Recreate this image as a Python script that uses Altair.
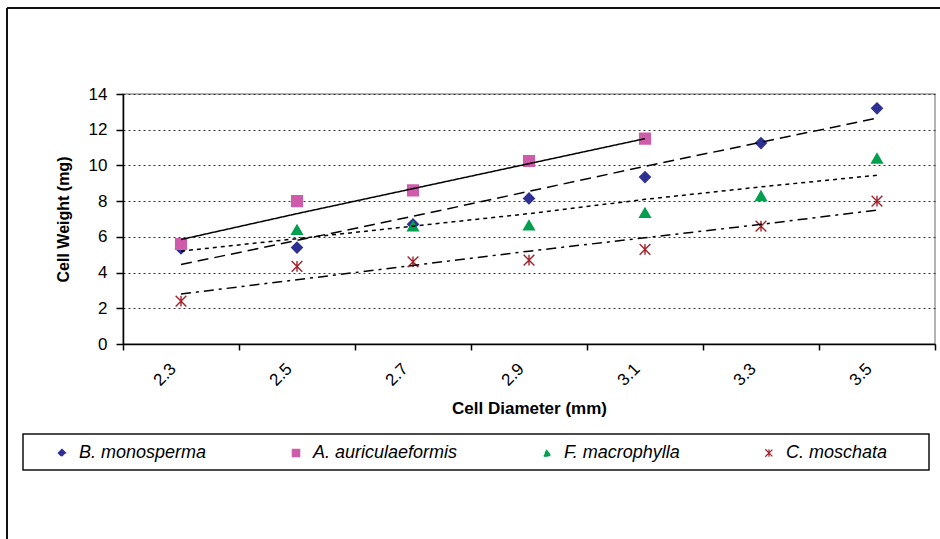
import altair as alt
import pandas as pd

# Cell diameter classes (mm) shown along the x axis
diameters = ["2.3", "2.5", "2.7", "2.9", "3.1", "3.3", "3.5"]

species = ["B. monosperma", "A. auriculaeformis", "F. macrophylla", "C. moschata"]

# Mean cell weight (mg) per diameter class
b_monosperma = [5.35, 5.4, 6.7, 8.15, 9.35, 11.25, 13.2]
a_auriculaeformis = [5.6, 8.0, 8.6, 10.25, 11.5, None, None]
f_macrophylla = [None, 6.4, 6.6, 6.65, 7.35, 8.3, 10.4]
c_moschata = [2.4, 4.35, 4.6, 4.7, 5.3, 6.6, 8.0]

# Linear trend line values per diameter class
b_monosperma_trend = [4.45, 5.8, 7.15, 8.55, 9.95, 11.3, 12.65]
a_auriculaeformis_trend = [5.85, 7.3, 8.7, 10.1, 11.5, None, None]
f_macrophylla_trend = [5.2, 5.9, 6.6, 7.3, 8.1, 8.8, 9.45]
c_moschata_trend = [2.8, 3.6, 4.4, 5.2, 5.95, 6.7, 7.5]

colors = ["#2E3192", "#CF5CAA", "#00A04E", "#A3232B"]
shapes = ["diamond", "square", "triangle-up", "M-1,-1L1,1M-1,1L1,-1M0,-1L0,1"]
dashes = [[11, 6], [1, 0], [4, 4], [10, 5, 3, 5]]


def long_table(series_lists):
    rows = []
    for name, values in zip(species, series_lists):
        for d, v in zip(diameters, values):
            if v is not None:
                rows.append({"diameter": d, "species": name, "weight": v})
    return pd.DataFrame(rows)


points_df = long_table([b_monosperma, a_auriculaeformis, f_macrophylla, c_moschata])
trend_df = long_table([b_monosperma_trend, a_auriculaeformis_trend,
                       f_macrophylla_trend, c_moschata_trend])

FONT = "Liberation Sans"

x_enc = alt.X(
    "diameter:O",
    sort=diameters,
    scale=alt.Scale(type="band", domain=diameters, paddingInner=0, paddingOuter=0),
    axis=alt.Axis(
        title="Cell Diameter (mm)",
        tickBand="extent",
        labelAngle=-45,
        labelAlign="right",
        labelBaseline="middle",
        labelPadding=16,
        labelOffset=-8,
        labelFontSize=17,
        labelColor="#000",
        tickSize=6,
        tickColor="#000",
        tickWidth=1.5,
        domainColor="#000",
        domainWidth=1.5,
        titleFontSize=17,
        titleFontWeight="bold",
        titleColor="#000",
        titlePadding=12,
        grid=False,
    ),
)

y_enc = alt.Y(
    "weight:Q",
    scale=alt.Scale(domain=[0, 14], nice=False, zero=True),
    axis=alt.Axis(
        title="Cell Weight (mg)",
        values=[0, 2, 4, 6, 8, 10, 12, 14],
        labelOverlap=False,
        labelFontSize=17,
        labelColor="#000",
        labelPadding=9,
        tickSize=7,
        tickColor="#000",
        tickWidth=1.5,
        domainColor="#000",
        domainWidth=1.5,
        grid=True,
        gridColor="#333",
        gridDash=[2, 3],
        gridWidth=1,
        titleFontSize=16,
        titleFontWeight="bold",
        titleColor="#000",
        titlePadding=17,
    ),
)

legend = alt.Legend(
    title=None,
    orient="none",
    legendX=-70,
    legendY=350,
    direction="horizontal",
    columnPadding=80,
    labelFontSize=18,
    labelFontStyle="italic",
    labelFont=FONT,
    labelColor="#000",
    labelOffset=8,
    symbolSize=55,
    symbolStrokeWidth=1.2,
    padding=0,
)

color_scale = alt.Scale(domain=species, range=colors)

points = alt.Chart(points_df).mark_point(
    filled=True, opacity=1, strokeWidth=1.4, size=115
).encode(
    x=x_enc,
    y=y_enc,
    color=alt.Color("species:N", scale=color_scale, legend=legend),
    stroke=alt.Stroke("species:N", scale=color_scale, legend=legend),
    shape=alt.Shape("species:N", scale=alt.Scale(domain=species, range=shapes), legend=legend),
)

trends = alt.Chart(trend_df).mark_line(color="#000", strokeWidth=1.5).encode(
    x=x_enc,
    y=y_enc,
    detail="species:N",
    strokeDash=alt.StrokeDash("species:N", scale=alt.Scale(domain=species, range=dashes), legend=None),
)

frame_data = alt.Data(values=[{"k": 0}])

# Outer chart frame (left and top edges)
frame_left = alt.Chart(frame_data).mark_rule(color="#111", strokeWidth=2).encode(
    x=alt.value(-116), y=alt.value(-86), y2=alt.value(460)
)
frame_top = alt.Chart(frame_data).mark_rule(color="#111", strokeWidth=2).encode(
    x=alt.value(-116), x2=alt.value(830), y=alt.value(-86)
)

# Box around the legend
legend_box = alt.Chart(frame_data).mark_rect(
    fill="#fff", fillOpacity=0, stroke="#111", strokeWidth=1.5
).encode(
    x=alt.value(-100), x2=alt.value(806), y=alt.value(340), y2=alt.value(376)
)

chart = (
    alt.layer(frame_left, frame_top, legend_box, points, trends)
    .properties(
        width=812,
        height=250,
        autosize=alt.AutoSizeParams(type="none"),
        padding={"left": 123, "top": 94, "right": 5, "bottom": 195},
        background="#ffffff",
    )
    .configure(font=FONT)
    .configure_view(stroke="#9a9a9a", strokeWidth=1.5)
)

chart.save("out.html", embed_options={"renderer": "svg", "actions": False})
